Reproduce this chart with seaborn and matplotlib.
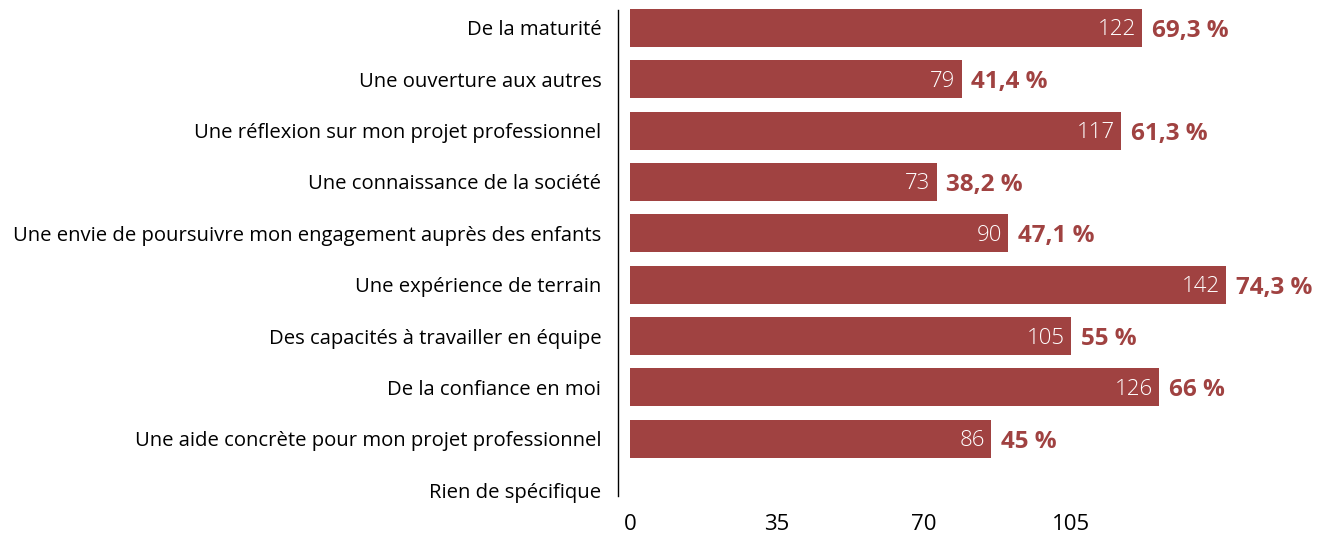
import pandas as pd
import matplotlib.pyplot as plt
import seaborn as sns

sns.set_style("white")
plt.rcParams['font.family'] = ['Open Sans', 'DejaVu Sans']

# data
labels = ["De la maturité", "Une ouverture aux autres",
          "Une réflexion sur mon projet professionnel",
          "Une connaissance de la société",
          "Une envie de poursuivre mon engagement auprès des enfants",
          "Une expérience de terrain", "Des capacités à travailler en équipe",
          "De la confiance en moi",
          "Une aide concrète pour mon projet professionnel",
          "Rien de spécifique"]
counts = [122, 79, 117, 73, 90, 142, 105, 126, 86, 0]
pcts = ["69,3 %", "41,4 %", "61,3 %", "38,2 %", "47,1 %", "74,3 %",
        "55 %", "66 %", "45 %", ""]
xticks = [0, 35, 70, 105]

red = "#a04241"
df = pd.DataFrame({"label": labels, "count": counts})

fig = plt.figure(figsize=(13.31, 5.34), dpi=100)
ax = fig.add_axes([0.4733, 0.034, 0.52, 0.962])
sns.barplot(data=df, x="count", y="label", orient="h", color=red,
            saturation=1, width=0.74, linewidth=0, ax=ax)

ax.set_xlim(0, 164.8)
ax.set_ylim(9.5, -0.5)
ax.set_xticks(xticks)
ax.set_xlabel("")
ax.set_ylabel("")

for s in ["top", "right", "bottom"]:
    ax.spines[s].set_visible(False)
ax.spines["left"].set_position(("outward", 8.6))
ax.spines["left"].set_bounds(-0.35, 9.12)
ax.spines["left"].set_color("black")
ax.spines["left"].set_linewidth(1.0)

ax.tick_params(axis="y", length=0, pad=12, labelsize=14.6, labelcolor="black")
ax.tick_params(axis="x", length=0, pad=-1, labelsize=16, labelcolor="black")

for i, (c, p) in enumerate(zip(counts, pcts)):
    if c == 0:
        continue
    ax.text(c - 1.5, i + 0.04, str(c), ha="right", va="center", color="white",
            fontsize=16, fontweight="light")
    ax.text(c + 2.3, i + 0.06, p, ha="left", va="center", color=red,
            fontsize=17.5, fontweight="bold")

fig.savefig("out.png", dpi=100)
